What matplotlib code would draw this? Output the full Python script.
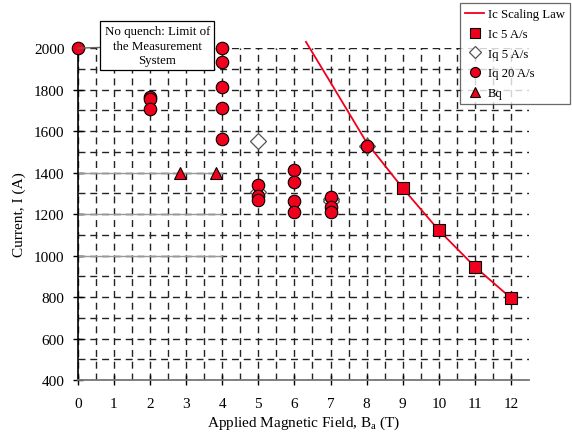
import matplotlib
matplotlib.use("Agg")
import matplotlib.pyplot as plt
import numpy as np

plt.rcParams["font.family"] = ["Liberation Serif", "DejaVu Serif"]
plt.rcParams["mathtext.fontset"] = "custom"
plt.rcParams["mathtext.rm"] = "Liberation Serif"
plt.rcParams["mathtext.it"] = "Liberation Serif:italic"

fontsize = 11
afontsize = 9.3
lfontsize = 9.2

# Ic scaling law curve
law_b = [6.32, 7, 8, 9, 10, 11, 12]
law_i = [2030, 1835, 1545, 1325, 1122, 946, 795]

# Ic 5 A/s
ic5_b = [9, 10, 11, 12]
ic5_i = [1325, 1124, 946, 795]

# Iq 5 A/s
iq5_b = [5, 5, 7, 7, 8]
iq5_i = [1553, 1308, 1275, 1262, 1530]

# Iq 20 A/s
iq20_b = [0, 2, 2, 2, 4, 4, 4, 4, 4, 5, 5, 5, 6, 6, 6, 6, 7, 7, 7, 8]
iq20_i = [2000, 1764, 1754, 1706, 2000, 1931, 1813, 1711, 1561,
          1341, 1288, 1270, 1413, 1353, 1264, 1208, 1283, 1236, 1210, 1529]

# Bq
bq_b = [2.83, 3.82]
bq_i = [1400, 1400]

# faint solid lines in the original scan
ref_levels = [1400, 1200, 1000]

red = "#f0001c"


def main():
    fig = plt.figure(figsize=(5.72, 4.35), dpi=100)
    ax = fig.add_axes([0.136, 0.124, 0.789, 0.763])

    ax.set_xlim(0, 12.5)
    ax.set_ylim(400, 2000)
    ax.set_xticks(range(0, 13))
    ax.set_yticks(range(400, 2001, 200))
    ax.set_xticks(np.arange(0.5, 12.01, 0.5), minor=True)
    ax.set_yticks(range(500, 2000, 100), minor=True)
    ax.tick_params(which="minor", length=0)
    ax.tick_params(which="major", direction="inout", length=7, width=1,
                   labelsize=fontsize)
    ax.tick_params(axis="x", pad=9)
    ax.tick_params(axis="y", pad=6)

    dash = dict(color="#222222", linestyle=(0, (5, 3.5)), linewidth=1.0)
    ax.grid(True, which="both", **dash)
    ax.set_axisbelow(True)

    for s in ["top", "right"]:
        ax.spines[s].set_visible(False)
    ax.spines["bottom"].set_color("#777777")
    ax.spines["bottom"].set_linewidth(1.3)
    ax.spines["left"].set_linewidth(1.2)

    for lvl in ref_levels:
        ax.plot([0, 4], [lvl, lvl], color="#999999", linewidth=1.0, zorder=1)

    ax.plot(law_b, law_i, color=red, linewidth=1.3, label="Ic Scaling Law",
            clip_on=False, zorder=3)
    ax.plot(ic5_b, ic5_i, "s", color=red, markeredgecolor="black",
            markersize=9, markeredgewidth=0.8, label="Ic 5 A/s", zorder=4)
    ax.plot(iq5_b, iq5_i, "D", color="white", markeredgecolor="#555555",
            markersize=8, markeredgewidth=0.9, label="Iq 5 A/s", zorder=4)
    ax.plot(iq20_b, iq20_i, "o", color=red, markeredgecolor="black",
            markersize=9, markeredgewidth=0.8, label="Iq 20 A/s",
            clip_on=False, zorder=5)
    ax.plot(bq_b, bq_i, "^", color=red, markeredgecolor="black",
            markersize=9, markeredgewidth=0.8, label="Bq", zorder=5)

    ax.annotate("No quench: Limit of\nthe Measurement\nSystem",
                xy=(0, 2000), xytext=(2.2, 2012),
                ha="center", va="center", fontsize=afontsize,
                linespacing=1.25,
                bbox=dict(boxstyle="square,pad=0.35", fc="white",
                          ec="black", lw=0.9),
                arrowprops=dict(arrowstyle="-", color="#666666", lw=1.0,
                                shrinkA=0, shrinkB=0),
                annotation_clip=False, zorder=6)

    ax.set_xlabel("Applied Magnetic Field, B$_{\\mathrm{a}}$ (T)",
                  fontsize=fontsize, labelpad=2)
    ax.set_ylabel("Current, I (A)", fontsize=fontsize, labelpad=6)

    leg = ax.legend(loc="upper right", bbox_to_anchor=(0.997, 0.99),
                    bbox_transform=fig.transFigure, fontsize=lfontsize,
                    frameon=True, fancybox=False, edgecolor="#444444",
                    handlelength=1.5, borderpad=0.4, labelspacing=0.6,
                    handletextpad=0.3, borderaxespad=0, markerscale=0.8)
    leg.get_frame().set_linewidth(0.9)

    fig.savefig("out.png", dpi=100)


if __name__ == "__main__":
    main()
